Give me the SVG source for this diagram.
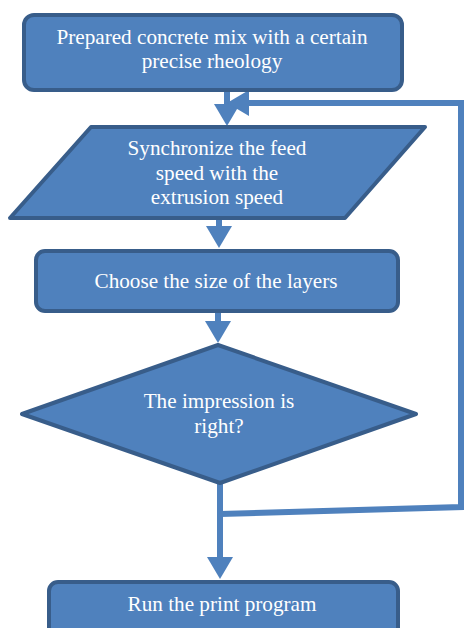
<svg xmlns="http://www.w3.org/2000/svg" width="464" height="628" viewBox="0 0 464 628">
<style>
.node{fill:#4f81bd;stroke:#385d8a;stroke-width:4;stroke-linejoin:round}
.lbl{font-family:"Liberation Serif","Times New Roman",serif;font-size:21.2px;fill:#ffffff;text-anchor:middle}
.conn{fill:none;stroke:#4f81bd;stroke-width:6}
</style>
<defs>
<marker id="ah" markerUnits="userSpaceOnUse" markerWidth="22" markerHeight="26" refX="0" refY="13" orient="auto" overflow="visible">
<path d="M0,0 L22,13 L0,26 z" fill="#4f81bd"/>
</marker>
</defs>
<g id="connectors">
<line class="conn" x1="227" y1="90" x2="227" y2="104" marker-end="url(#ah)"/>
<line class="conn" x1="219" y1="218" x2="219" y2="226" marker-end="url(#ah)"/>
<line class="conn" x1="218" y1="311" x2="218" y2="321" marker-end="url(#ah)"/>
<line class="conn" x1="220" y1="483" x2="220" y2="557" marker-end="url(#ah)"/>
<polyline class="conn" points="220,514 461,507 461,103 249,103" marker-end="url(#ah)"/>
</g>
<g id="n1">
<rect class="node" x="24" y="15" width="378" height="75" rx="10"/>
<text class="lbl" x="212" y="44">Prepared concrete mix with a certain</text>
<text class="lbl" x="212" y="68">precise rheology</text>
</g>
<g id="n2">
<polygon class="node" points="91,127 425,127 345,218 10,218"/>
<text class="lbl" x="217" y="155">Synchronize the feed</text>
<text class="lbl" x="217" y="180">speed with the</text>
<text class="lbl" x="217" y="204">extrusion speed</text>
</g>
<g id="n3">
<rect class="node" x="36" y="251" width="362" height="60" rx="9"/>
<text class="lbl" x="216" y="288">Choose the size of the layers</text>
</g>
<g id="n4">
<polygon class="node" points="218,345 416,414 220,483 22,414"/>
<text class="lbl" x="219" y="408">The impression is</text>
<text class="lbl" x="219" y="433">right?</text>
</g>
<g id="n5">
<rect class="node" x="49" y="582" width="349" height="60" rx="9"/>
<text class="lbl" x="222" y="611">Run the print program</text>
</g>
</svg>
